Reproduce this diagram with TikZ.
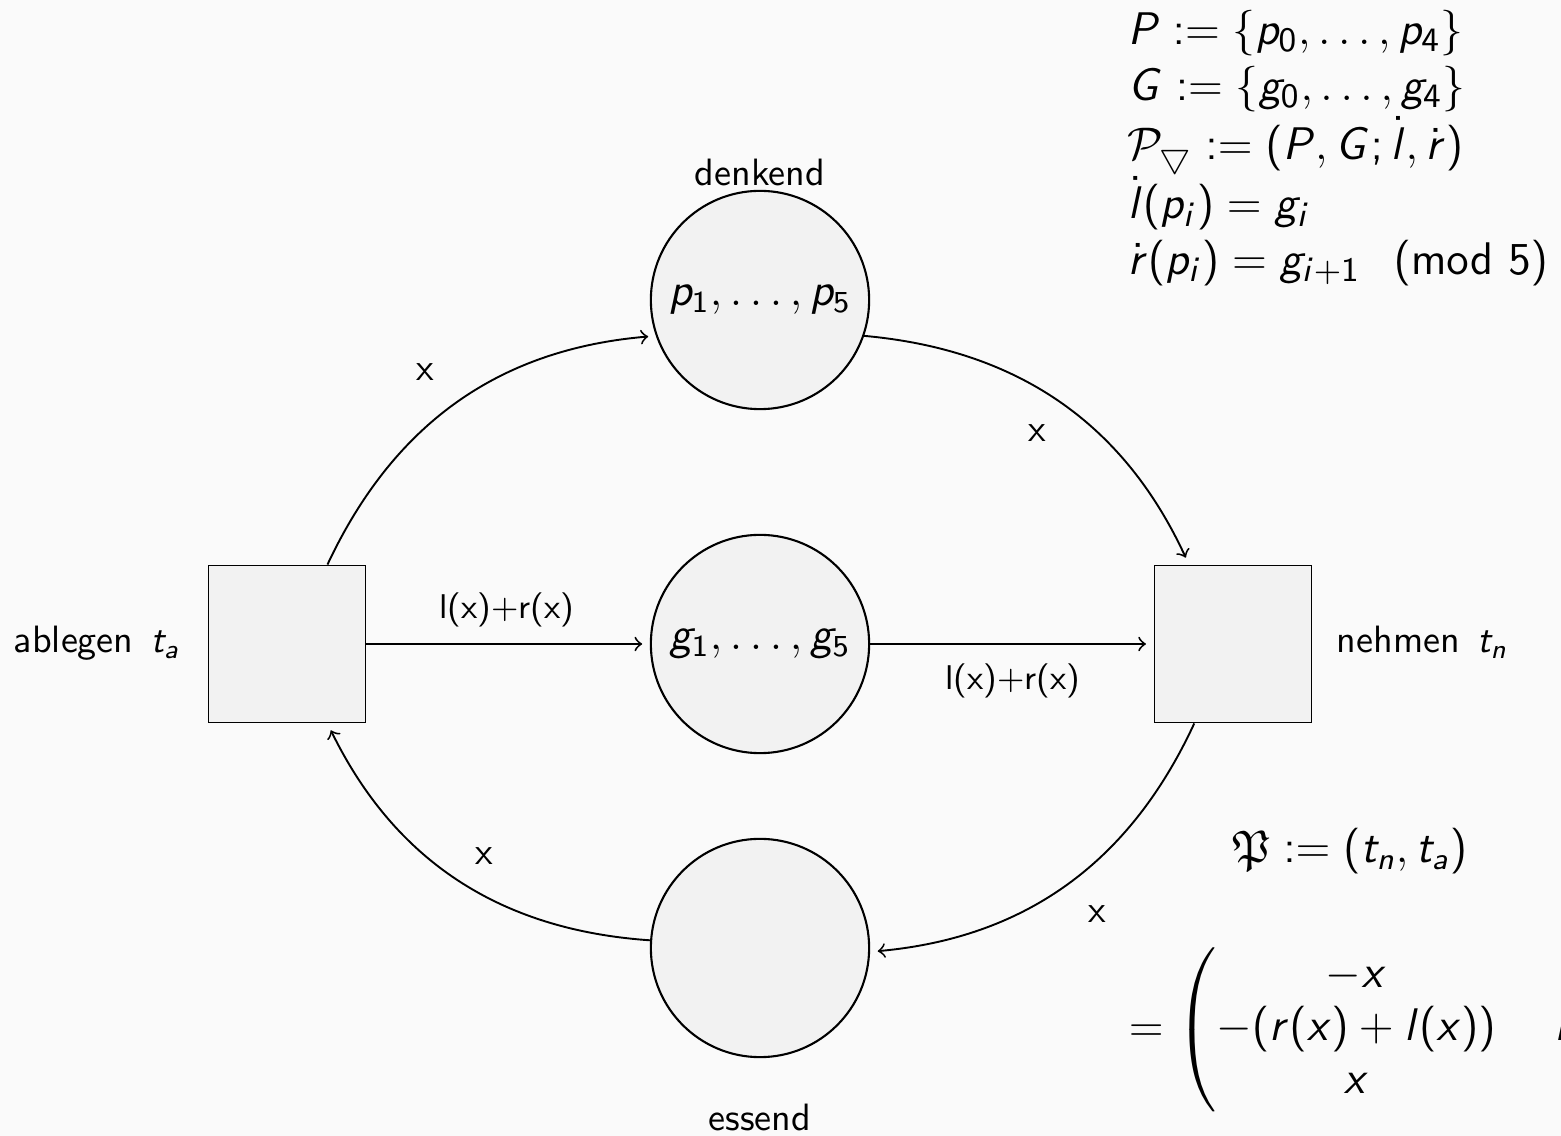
\documentclass[tikz,border=0pt]{standalone}
\usepackage{amsmath,amssymb}
\renewcommand{\familydefault}{\sfdefault}
\DeclareSymbolFont{sfslanted}{OT1}{cmss}{m}{sl}
\DeclareSymbolFont{operators}{OT1}{cmss}{m}{n}
\SetSymbolFont{operators}{bold}{OT1}{cmss}{bx}{n}
\DeclareMathSymbol{P}{\mathalpha}{sfslanted}{`P}
\DeclareMathSymbol{G}{\mathalpha}{sfslanted}{`G}
\DeclareMathSymbol{p}{\mathalpha}{sfslanted}{`p}
\DeclareMathSymbol{g}{\mathalpha}{sfslanted}{`g}
\DeclareMathSymbol{l}{\mathalpha}{sfslanted}{`l}
\DeclareMathSymbol{r}{\mathalpha}{sfslanted}{`r}
\DeclareMathSymbol{i}{\mathalpha}{sfslanted}{`i}
\DeclareMathSymbol{t}{\mathalpha}{sfslanted}{`t}
\DeclareMathSymbol{n}{\mathalpha}{sfslanted}{`n}
\DeclareMathSymbol{a}{\mathalpha}{sfslanted}{`a}
\DeclareMathSymbol{x}{\mathalpha}{sfslanted}{`x}
\definecolor{bg}{gray}{0.98}
\tikzset{
  place/.style={circle, draw, line width=0.55pt, fill=black!5, minimum size=57.3pt, inner sep=0pt, font=\large},
  trans/.style={rectangle, draw, line width=0.5pt, fill=black!5, minimum size=41.2pt, inner sep=0pt},
  arc/.style={->, line width=0.5pt, shorten >=2pt},
  lab/.style={inner sep=0pt}
}
\begin{document}
\begin{tikzpicture}[x=0.2625pt, y=0.2625pt]
\fill[bg] (0,0) rectangle (1561,-1136);
\useasboundingbox (0,0) rectangle (1561,-1136);
% places and transitions
\node[place] (p) at (760,-300) {$p_1,\ldots,p_5$};
\node[place] (g) at (760,-644) {$g_1,\ldots,g_5$};
\node[place] (e) at (760,-948) {};
\node[trans] (ta) at (287,-644) {};
\node[trans] (tn) at (1233,-644) {};
% names
\node[lab] (pl) at (760,-172) {denkend};
\node[lab] (el) at (760,-1117) {essend};
\node[lab, anchor=base east] (tal) at (181,-653) {ablegen\hspace{4.5pt}$t_a$};
\node[lab, anchor=base west] (tnl) at (1336,-653) {nehmen\hspace{4.5pt}$t_n$};
% arcs
\draw[arc] (ta.63) to[bend left=30] (p.199);
\draw[arc] (p.-19) to[bend left=30] (tn.119);
\draw[arc] (tn.244) to[bend left=30] (e.-2);
\draw[arc] (e.176) to[bend left=30] (ta.-63);
\draw[arc] (ta.east) -- (g.west);
\draw[arc] (g.east) -- (tn.west);
% arc labels
\node[lab] (x1) at (425,-372) {x};
\node[lab] (x2) at (1037,-433) {x};
\node[lab] (x3) at (1097,-914) {x};
\node[lab] (x4) at (484,-856) {x};
\node[lab, font=\small] (w1) at (507,-610) {l(x)+r(x)};
\node[lab, font=\small] (w2) at (1013,-681) {l(x)+r(x)};
% formulas
\node[lab, anchor=north west, font=\fontsize{12.6}{14.6}\selectfont] (defs) at (1127,-5) {$\begin{array}{@{}l@{}}
P := \{p_0,\ldots,p_4\}\\
G := \{g_0,\ldots,g_4\}\\
\mathcal{P}_{\bigtriangledown} := (P,G;\dot{l},\dot{r})\\
\dot{l}(p_i) = g_i\\
\dot{r}(p_i) = g_{i+1}\;\pmod{5}
\end{array}$};
\node[lab, font=\large] (frak) at (1350,-851) {$\mathfrak{P} := (t_n,t_a)$};
\node[lab, anchor=west, font=\large] (mat) at (1128,-1030) {$= \begin{pmatrix} -x & \\ -(r(x)+l(x)) & \hspace{5.4pt}l\hphantom{(x)+(x)} \\ x & \end{pmatrix}$};
\end{tikzpicture}
\end{document}
